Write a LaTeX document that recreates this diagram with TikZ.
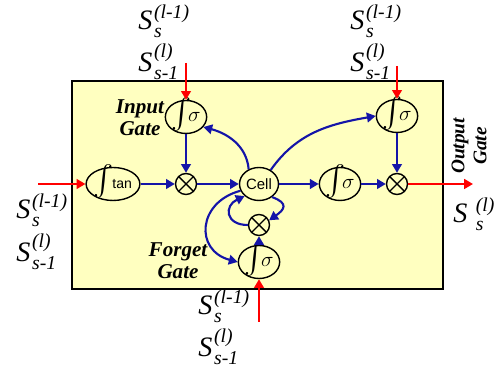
\documentclass[tikz,border=0pt]{standalone}
\usepackage{amsmath}
\usepackage{fontspec}
\setmainfont{Liberation Serif}
\newfontfamily\arialfont{Liberation Sans}
\usetikzlibrary{shapes.geometric,arrows.meta,positioning,calc}
\definecolor{boxfill}{HTML}{FFFFC0}
\definecolor{flow}{HTML}{1414A8}
\definecolor{inred}{HTML}{FF0000}
\newcommand{\slab}[2]{$\textit{S}\kern1pt{}_{\textit{#2}}^{\textit{#1}}$}
\newcommand{\bigint}{\smash{\fontsize{19}{19}\selectfont$\int$}}

\begin{document}
\begin{tikzpicture}[
  unit/.style={ellipse, draw, thick, fill=boxfill, minimum width=0.78cm, minimum height=0.66cm, inner sep=0pt, font=\large},
  mult/.style={circle, draw, thick, fill=boxfill, minimum size=0.42cm, inner sep=0pt,
    path picture={\draw[thick] (path picture bounding box.south west) -- (path picture bounding box.north east)
      (path picture bounding box.north west) -- (path picture bounding box.south east);}},
  flowarr/.style={-{Triangle[length=5pt,width=5.5pt]}, line width=1.2pt, flow},
  inarr/.style={-{Triangle[length=5pt,width=5.5pt]}, line width=1.2pt, inred},
  gatelbl/.style={font=\fontsize{12}{12.5}\selectfont\bfseries\itshape, align=center},
  slbl/.style={font=\fontsize{16}{16}\selectfont, inner sep=0pt, anchor=base west}
]
  \useasboundingbox (0,0) rectangle (10,7.4);
  \draw[semithick, fill=boxfill] (1.44,1.62) rectangle (8.86,5.78);
  % units
  \node[unit] (ins) at (3.72,5.06) {\bigint$\!\sigma$};
  \node[unit] (outs) at (7.94,5.08) {\bigint$\!\sigma$};
  \node[unit] (tanu) at (2.26,3.72) {\bigint\hspace{-1pt}{\arialfont\fontsize{8}{8}\selectfont tan}};
  \node[mult] (m1) at (3.72,3.72) {};
  \node[unit] (cell) at (5.18,3.72) {\arialfont\fontsize{8.5}{8.5}\selectfont Cell};
  \node[unit] (sig) at (6.80,3.72) {\bigint$\!\sigma$};
  \node[mult] (m2) at (7.94,3.72) {};
  \node[mult] (m3) at (5.18,2.90) {};
  \node[unit] (fgs) at (5.18,2.16) {\bigint$\!\sigma$};
  % gate labels
  \node[gatelbl] (inlbl) at (2.80,5.05) {Input\\Gate};
  \node[gatelbl] (fglbl) at (3.56,2.18) {Forget\\Gate};
  \node[gatelbl, font=\fontsize{11}{12.5}\selectfont\bfseries\itshape, rotate=90] (outlbl) at (9.38,4.48) {Output\\Gate};
  % inputs and output
  \coordinate (inl) at (0.76,3.72);
  \coordinate (int) at (3.72,6.14);
  \coordinate (inr) at (7.94,6.08);
  \coordinate (inb) at (5.18,0.96);
  \coordinate (outr) at (9.46,3.72);
  \draw[inarr] (inl) -- (tanu);
  \draw[inarr] (int) -- (ins);
  \draw[inarr] (inr) -- (outs);
  \draw[inarr] (inb) -- (fgs);
  \draw[inarr] (m2) -- (outr);
  % links
  \draw[flowarr] (tanu) -- (m1);
  \draw[flowarr] (m1) -- (cell);
  \draw[flowarr] (cell) -- (sig);
  \draw[flowarr] (sig) -- (m2);
  \draw[flowarr] (ins) -- (m1);
  \draw[flowarr] (outs) -- (m2);
  \draw[flowarr] (fgs) -- (m3);
  \draw[flowarr] (cell.125) to[out=95,in=-15] (ins.-30);
  \draw[flowarr] (cell.50) to[out=55,in=190] (outs.west);
  \draw[flowarr] (cell.200) to[out=195,in=165,looseness=1.6] (fgs.west);
  \draw[flowarr] (cell.-45) to[out=-20,in=35,looseness=2] (m3.25);
  \draw[flowarr] (m3.west) to[out=180,in=205,looseness=2] (cell.220);
  % signal labels
  \node[slbl] (t1a) at (2.76,6.80) {\slab{(l-1)}{s}};
  \node[slbl] (t1b) at (2.76,5.96) {\slab{(l)}{s-1}};
  \node[slbl] (t2a) at (7.00,6.80) {\slab{(l-1)}{s}};
  \node[slbl] (t2b) at (7.00,5.96) {\slab{(l)}{s-1}};
  \node[slbl] (l1a) at (0.32,3.02) {\slab{(l-1)}{s}};
  \node[slbl] (l1b) at (0.32,2.16) {\slab{(l)}{s-1}};
  \node[slbl] (b1a) at (3.96,1.10) {\slab{(l-1)}{s}};
  \node[slbl] (b1b) at (3.96,0.26) {\slab{(l)}{s-1}};
  \node[slbl] (r1) at (9.06,2.94) {$\textit{S}\;{}_{\textit{s}}^{\textit{(l)}}$};
\end{tikzpicture}
\end{document}
